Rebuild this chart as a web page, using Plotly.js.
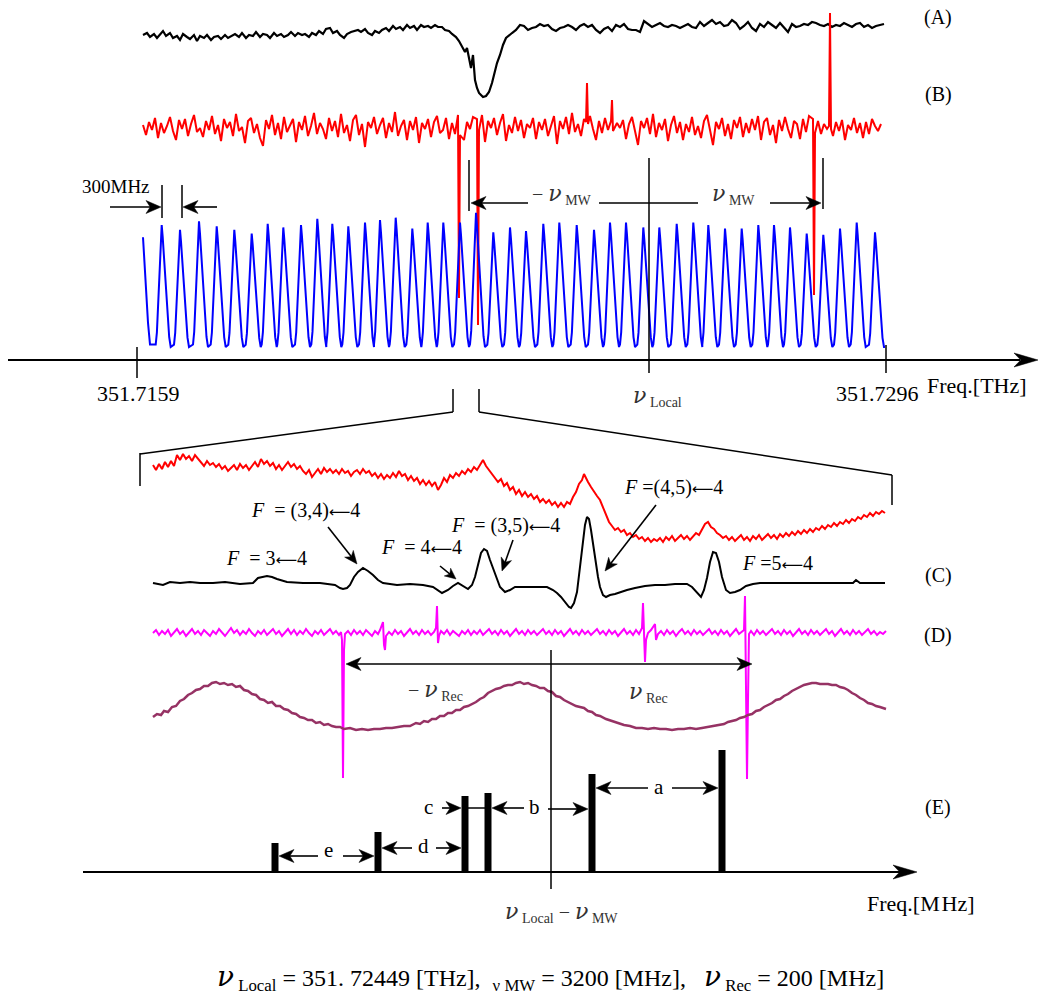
<!DOCTYPE html>
<html><head><meta charset="utf-8">
<script src="https://cdn.plot.ly/plotly-3.0.1.min.js"></script>
<style>html,body{margin:0;padding:0;background:#fff}#chart{width:1040px;height:995px}</style>
</head><body><div id="chart"></div>
<script>
// ======================= DATA =======================
// Upper panel calibration: scan sample -> frequency
const tickFreqTHz = [351.7159, 351.7296];
const tickScan = [-6, 743];
const localFreqTHz = 351.72449;
const mwMHz = 3200;
const recMHz = 200;

// (A) absorption signal [scan sample, signal]
const traceA = [[0,0],[4,2],[7,-2],[11,1],[14,-3],[17,0],[20,4],[23,-1],[27,2],[30,-3],[34,-1],[37,-5],[40,1],[44,-2],[47,-4],[51,0],[54,-6],[57,-1],[61,-3],[64,0],[68,-5],[71,-2],[75,-1],[78,-4],[82,0],[85,-3],[89,-1],[92,1],[96,-2],[99,2],[103,-3],[106,0],[110,-1],[113,3],[117,-2],[120,1],[124,0],[127,-3],[131,2],[134,-1],[138,1],[141,-2],[145,0],[148,3],[152,-1],[155,2],[159,0],[162,1],[166,-2],[169,2],[173,0],[176,4],[180,1],[183,6],[187,7],[190,2],[194,4],[197,0],[201,-3],[204,1],[208,3],[211,4],[215,5],[218,3],[222,6],[225,2],[229,0],[232,4],[236,2],[239,5],[243,7],[246,4],[250,9],[253,6],[257,8],[260,5],[264,10],[267,7],[271,9],[274,5],[278,10],[281,8],[285,9],[288,7],[292,10],[295,8],[299,8],[302,5],[306,4],[309,1],[313,-2],[316,-6],[319,-11],[322,-17],[324,-13],[326,-25],[328,-33],[330,-20],[332,-45],[334,-53],[336,-58],[338,-60],[340,-62],[343,-61],[346,-57],[349,-48],[352,-37],[354,-28],[357,-20],[360,-10],[363,-3],[366,0],[369,2],[373,5],[377,10],[381,9],[385,5],[389,7],[393,8],[397,11],[401,9],[405,10],[409,6],[413,4],[417,7],[421,8],[425,10],[429,8],[433,5],[437,9],[441,11],[445,8],[449,10],[453,5],[457,2],[461,6],[465,8],[469,4],[473,10],[477,8],[481,11],[485,6],[489,5],[493,5],[497,3],[501,14],[505,11],[509,8],[513,10],[517,12],[521,9],[525,8],[529,10],[533,9],[537,7],[541,9],[545,11],[549,8],[553,7],[557,13],[561,9],[565,12],[569,15],[573,11],[577,13],[581,9],[585,10],[589,15],[593,12],[597,6],[601,9],[605,13],[609,7],[613,4],[617,11],[621,8],[625,13],[629,10],[633,7],[637,12],[641,8],[645,3],[649,11],[653,8],[657,9],[661,11],[665,10],[669,13],[673,12],[677,10],[681,9],[685,11],[689,8],[693,10],[697,9],[701,12],[705,10],[709,8],[713,11],[717,12],[721,8],[725,10],[729,7],[733,9],[737,10],[741,11]];

// (B) signal sampled every 3 scan samples from scan 0, plus sharp spikes
const bStartScan = 0, bStepScan = 3;
const bSignal = [
 2,-8,5,-3,9,-11,4,-6,1,10,-4,-13,7,-2,8,-9,3,12,-5,-1,
 -10,6,-3,11,-7,2,-14,8,-1,5,-9,13,-4,0,-16,6,9,-6,3,-11,
 -19,7,-2,12,-8,4,-12,10,-5,2,8,-15,5,-3,11,-9,1,14,-7,4,
 -2,-12,9,-4,6,-10,13,-6,2,-14,7,12,-8,3,-20,5,-1,10,-7,2,
 9,-11,4,-5,15,-9,1,7,-13,6,-3,10,-16,4,-2,8,-10,5,11,-6,
 -3,9,-12,4,-7,1,8,-13,5,-2,10,-6,3,12,-15,6,-1,9,-8,4,
 13,-14,2,-6,10,-4,7,-11,3,-1,9,-12,5,-3,8,-9,1,11,-17,6,
 -2,10,-7,14,-5,3,-9,8,-4,11,-2,-13,6,-6,9,-3,12,-10,4,-1,
 7,-12,3,10,-5,-18,6,-1,9,-7,13,-10,4,-3,8,-14,2,11,-6,5,
 -13,3,-5,10,-8,1,-11,6,12,-4,-18,5,-2,9,-9,3,-12,7,-1,10,
 -10,4,-6,8,-3,11,-13,5,9,-8,2,-16,7,-4,10,-2,-11,6,3,-12,
 8,-5,11,-9,2,6,-7,3,-2,1,-9,5,-4,7,-13,2,-3,9,-6,4,
 -11,5,-7,8,1,-4,3];
const bSpikes = [[315,12],[316,-171],[317,-8],[334,8],[335,-198],[336,-3],[443,5],[444,44],[445,3],[468,6],[469,27],[470,-4],[670,8],[671,-168],[672,-6],[686,1],[687,114],[688,-2]];

// Fabry-Perot transmission fringes: peak scan positions and peak heights
const fpPeakScan = [18.7,37,56,73.7,91.3,108.7,124.7,140.3,158,174.3,189.3,205.3,222,237,252.7,269.3,284.7,300.3,317,333,350.3,367,383,400.3,416.3,433.7,451,467,483,500.3,516.3,533.7,550.3,565.3,582,598.7,615.3,631,647,663.7,680.3,697,713.7,732];
const fpPeakHeight = [1.00,0.96,1.03,0.99,0.96,0.93,1.01,0.98,1.00,1.05,1.01,0.99,1.02,1.04,1.06,0.97,1.02,1.02,1.02,1.10,0.94,0.98,0.95,1.01,1.02,1.00,0.96,1.02,1.02,0.98,0.98,1.01,1.02,1.00,0.97,0.97,1.00,1.00,0.98,0.93,0.92,0.97,1.02,0.94];
const fpLeadScan = [0,1,3,5,7];
const fpLeadValue = [0.90,0.75,0.45,0.20,0.02];
const fpProfileDx = [-6,-4.8,-3.2,-1.6,-0.5,0,1,2.5,5,7.5,9];
const fpProfileFrac = [0.02,0.12,0.45,0.8,0.97,1,0.9,0.7,0.35,0.08,0.0];
const fpTailScan = [742];
const fpTailValue = [0];

// Lower panel: [MHz from nuLocal - nuMW, signal]
const traceSat = [[-398,75],[-395,70],[-392,76],[-389,71],[-386,78],[-383,73],[-380,79],[-377,74],[-374,85],[-371,80],[-368,86],[-365,81],[-362,84],[-359,79],[-356,85],[-353,81],[-350,78],[-347,74],[-344,79],[-341,75],[-338,77],[-335,73],[-332,76],[-329,71],[-326,74],[-323,69],[-320,72],[-317,75],[-314,70],[-311,76],[-308,72],[-305,75],[-302,70],[-299,74],[-296,78],[-293,73],[-290,81],[-287,76],[-284,79],[-281,74],[-278,77],[-275,71],[-272,75],[-269,70],[-266,74],[-263,78],[-260,73],[-257,76],[-254,71],[-251,74],[-248,69],[-245,66],[-242,70],[-239,63],[-236,67],[-233,71],[-230,66],[-227,72],[-224,68],[-221,71],[-218,67],[-215,70],[-212,66],[-209,71],[-206,67],[-203,69],[-200,64],[-197,68],[-194,70],[-191,66],[-188,71],[-185,67],[-182,69],[-179,64],[-176,67],[-173,62],[-170,66],[-167,61],[-164,65],[-161,62],[-158,67],[-155,63],[-152,69],[-149,64],[-146,66],[-143,60],[-140,64],[-137,59],[-134,62],[-131,56],[-128,60],[-125,55],[-122,59],[-119,54],[-116,58],[-113,50],[-110,55],[-107,62],[-104,58],[-101,65],[-98,62],[-95,67],[-92,64],[-89,69],[-86,66],[-83,71],[-80,68],[-77,73],[-74,70],[-71,75],[-68,80],[-65,74],[-62,70],[-59,65],[-56,62],[-53,58],[-50,61],[-47,54],[-44,57],[-41,50],[-38,53],[-35,46],[-32,50],[-29,44],[-26,48],[-23,43],[-20,46],[-17,41],[-14,44],[-11,38],[-8,41],[-5,37],[-2,40],[1,35],[4,38],[7,33],[10,37],[13,33],[16,38],[19,36],[22,43],[25,48],[28,56],[31,60],[33,66],[35,61],[37,58],[40,53],[43,48],[46,44],[49,40],[52,33],[55,25],[58,18],[61,14],[64,10],[67,12],[70,8],[73,10],[76,5],[79,7],[82,3],[85,5],[88,1],[91,3],[94,-1],[97,2],[100,-2],[103,1],[106,-1],[109,2],[112,-2],[115,3],[118,0],[121,4],[124,-1],[127,2],[130,5],[133,1],[136,4],[139,0],[142,4],[145,7],[148,5],[151,10],[154,16],[157,18],[160,13],[163,11],[166,7],[169,5],[172,2],[175,4],[178,0],[181,3],[184,-1],[187,2],[190,5],[193,0],[196,3],[199,-1],[202,4],[205,1],[208,5],[211,0],[214,3],[217,6],[220,2],[223,5],[226,1],[229,6],[232,3],[235,7],[238,4],[241,8],[244,5],[247,9],[250,6],[253,10],[256,7],[259,11],[262,8],[265,12],[268,10],[271,14],[274,11],[277,15],[280,13],[283,17],[286,14],[289,18],[292,16],[295,20],[298,17],[301,21],[304,19],[307,23],[310,21],[313,25],[316,23],[319,27],[322,24],[325,28],[328,26],[331,29],[334,27]];

const traceC = [[-398,0],[-388,-2],[-381,1],[-371,0],[-361,1],[-351,0],[-338,0],[-326,1],[-311,-1],[-298,0],[-293,5],[-288,6],[-284,7],[-279,6],[-274,4],[-264,1],[-248,0],[-231,0],[-216,-2],[-211,-5],[-208,-6],[-204,-5],[-201,-2],[-197,6],[-193,11],[-188,15],[-183,12],[-178,8],[-173,3],[-168,0],[-154,-2],[-141,-1],[-128,-2],[-118,-4],[-114,-7],[-109,-10],[-103,-7],[-98,-3],[-93,0],[-88,-3],[-83,-6],[-79,-2],[-76,6],[-73,18],[-70,30],[-67,34],[-64,32],[-61,23],[-58,15],[-55,6],[-51,-4],[-46,-9],[-41,-7],[-36,-4],[-21,-4],[-4,-4],[2,-7],[6,-10],[10,-14],[14,-19],[18,-24],[20,-25],[23,-20],[26,-9],[29,18],[31,33],[34,58],[36,66],[38,64],[40,53],[42,38],[44,23],[47,6],[49,-4],[52,-12],[55,-14],[59,-12],[64,-11],[69,-9],[76,-7],[84,-5],[94,-3],[104,-2],[114,-2],[124,-1],[136,-1],[141,-4],[146,-9],[150,-14],[153,-7],[156,5],[159,21],[162,31],[165,30],[168,21],[171,6],[175,-7],[179,-10],[184,-9],[189,-7],[195,-3],[202,-1],[209,0],[232,0],[269,0],[302,0],[305,3],[309,0],[334,0]];

const traceD = [[-398,0],[-395,3],[-392,-2],[-389,2],[-386,-1],[-383,3],[-380,-3],[-377,1],[-374,4],[-371,-1],[-368,2],[-365,-3],[-362,1],[-359,4],[-356,-1],[-353,2],[-350,-2],[-347,3],[-344,0],[-341,-3],[-338,2],[-335,-1],[-332,4],[-329,0],[-326,-3],[-323,1],[-320,5],[-317,0],[-314,3],[-311,-2],[-308,2],[-305,-1],[-302,4],[-299,0],[-296,-3],[-293,2],[-290,-1],[-287,3],[-284,-2],[-281,1],[-278,4],[-275,-1],[-272,2],[-269,-3],[-266,1],[-263,4],[-260,-1],[-257,3],[-254,-2],[-251,2],[-248,-1],[-245,4],[-242,0],[-239,-3],[-236,2],[-233,-1],[-230,3],[-227,-2],[-224,1],[-221,4],[-218,-1],[-215,2],[-212,-2],[-210,1],[-209,-7],[-208,-145],[-207,-17],[-206,-1],[-203,2],[-200,-2],[-197,3],[-194,-1],[-191,2],[-188,-2],[-185,3],[-182,0],[-179,-3],[-176,2],[-173,-1],[-171,3],[-169,8],[-168,11],[-167,-12],[-166,-17],[-165,-3],[-162,1],[-159,-2],[-156,3],[-153,-1],[-150,2],[-147,-3],[-144,1],[-141,4],[-138,-1],[-135,2],[-132,-2],[-129,3],[-126,-1],[-123,2],[-120,-2],[-117,1],[-115,5],[-114,27],[-113,-10],[-112,-3],[-110,2],[-107,-1],[-104,3],[-101,-2],[-98,2],[-95,-1],[-92,-3],[-89,2],[-86,-1],[-83,3],[-80,-2],[-77,2],[-74,-1],[-71,3],[-68,-2],[-65,1],[-62,4],[-59,-1],[-56,2],[-53,-2],[-50,3],[-47,-1],[-44,2],[-41,-3],[-38,1],[-35,4],[-32,-1],[-29,2],[-26,-2],[-23,3],[-20,-1],[-17,2],[-14,-2],[-11,1],[-8,4],[-5,-1],[-2,2],[1,-2],[4,3],[7,-1],[10,2],[13,-3],[16,1],[19,4],[22,-1],[25,2],[28,-2],[31,3],[34,-1],[37,2],[40,-2],[43,1],[46,4],[49,-1],[52,2],[55,-2],[58,3],[61,-1],[64,2],[67,-3],[70,1],[73,4],[76,-1],[79,2],[82,-2],[85,3],[88,-1],[91,5],[92,30],[93,1],[94,-29],[95,-7],[97,0],[100,3],[103,7],[104,9],[105,-7],[107,-1],[110,2],[113,-2],[116,3],[119,-1],[122,2],[125,-3],[128,1],[131,4],[134,-1],[137,2],[140,-2],[143,3],[146,-1],[149,2],[152,-2],[155,1],[158,4],[161,-1],[164,2],[167,-2],[170,3],[173,-1],[176,2],[179,-3],[182,1],[185,4],[188,-1],[191,2],[193,3],[194,37],[195,-47],[196,-146],[197,-67],[198,-1],[200,2],[203,-2],[206,3],[209,-1],[212,2],[215,-2],[218,1],[221,4],[224,-1],[227,2],[230,-2],[233,3],[236,-1],[239,2],[242,-3],[245,1],[248,4],[251,-1],[254,2],[257,-2],[260,3],[263,-1],[266,2],[269,-2],[272,1],[275,4],[278,-1],[281,2],[284,-3],[287,1],[290,4],[293,-1],[296,2],[299,-2],[302,3],[305,-1],[308,2],[311,-2],[314,1],[317,4],[320,-1],[323,2],[326,-2],[329,1],[332,-1],[335,2]];

const traceRec = [[-398,-11],[-394,-8],[-390,-9],[-387,-5],[-383,-6],[-379,-1],[-375,0],[-371,5],[-367,7],[-363,11],[-359,13],[-355,16],[-351,17],[-347,20],[-343,20],[-339,23],[-335,24],[-331,22],[-327,23],[-323,21],[-319,22],[-315,19],[-311,20],[-307,16],[-303,15],[-299,12],[-295,11],[-291,7],[-287,6],[-283,3],[-279,4],[-275,0],[-271,0],[-267,-3],[-263,-4],[-259,-7],[-255,-8],[-251,-11],[-247,-12],[-243,-14],[-239,-14],[-235,-17],[-231,-16],[-227,-19],[-223,-18],[-219,-20],[-215,-21],[-211,-21],[-207,-23],[-201,-22],[-195,-24],[-189,-23],[-183,-24],[-177,-23],[-171,-23],[-165,-22],[-159,-22],[-153,-21],[-147,-20],[-141,-20],[-135,-17],[-131,-18],[-127,-15],[-123,-16],[-119,-13],[-115,-13],[-111,-10],[-107,-10],[-103,-7],[-99,-7],[-95,-4],[-91,-4],[-87,-1],[-83,0],[-79,2],[-75,4],[-71,7],[-67,9],[-63,13],[-59,15],[-55,17],[-51,18],[-47,20],[-43,21],[-39,21],[-35,23],[-31,24],[-27,22],[-23,23],[-19,21],[-15,20],[-11,18],[-7,18],[-3,15],[1,14],[5,10],[9,9],[13,6],[17,4],[21,2],[25,0],[29,-1],[33,-2],[37,-5],[41,-6],[45,-9],[49,-10],[55,-13],[61,-15],[67,-17],[73,-19],[79,-20],[85,-22],[91,-22],[97,-23],[103,-22],[109,-23],[115,-23],[121,-24],[127,-23],[133,-23],[139,-22],[145,-23],[151,-22],[157,-21],[163,-20],[169,-19],[173,-18],[177,-16],[181,-15],[185,-14],[189,-12],[193,-11],[197,-9],[201,-8],[205,-5],[209,-4],[213,-1],[217,1],[221,3],[225,6],[229,7],[233,10],[237,12],[241,15],[245,17],[249,19],[253,21],[257,22],[261,23],[265,23],[269,22],[273,22],[277,22],[281,21],[285,21],[289,19],[293,18],[297,16],[301,13],[305,11],[309,8],[313,6],[317,3],[321,2],[325,0],[329,-1],[333,-2],[335,-3]];

// (E) stick spectrum
const stickMHz = [-276, -173, -86, -63, 41, 171];
const stickIntensity = [29, 40, 76, 79, 98, 122];
const gapLabels = ['e', 'd', 'c', 'b', 'a'];

const fLabelText = ['F\u00A0 = 3←4', 'F\u00A0 = (3,4)←4', 'F\u00A0 = 4←4', 'F\u00A0 = (3,5)←4', 'F =(4,5)←4', 'F =5←4'];
const panelLabels = ['(A)', '(B)', '(C)', '(D)', '(E)'];

// ======================= BUILD =======================
const W = 1040, H = 995;
const mhzPerScan = (tickFreqTHz[1] - tickFreqTHz[0]) * 1e6 / (tickScan[1] - tickScan[0]);
const scanToMHz = k => (k - tickScan[0]) * mhzPerScan;

// FP fringe polyline assembled from the peak table
const fpX = [], fpY = [];
fpLeadScan.forEach((k, i) => { fpX.push(scanToMHz(k)); fpY.push(fpLeadValue[i]); });
fpPeakScan.forEach((p, i) => {
  fpProfileDx.forEach((d, j) => { fpX.push(scanToMHz(p + d)); fpY.push(fpPeakHeight[i] * fpProfileFrac[j]); });
});
fpTailScan.forEach((k, i) => { fpX.push(scanToMHz(k)); fpY.push(fpTailValue[i]); });

// (B): sampled noise merged with the spikes
let bPts = bSignal.map((v, i) => [bStartScan + i * bStepScan, v])
  .filter(p => !bSpikes.some(s => Math.abs(s[0] - p[0]) < 1.5));
bPts = bPts.concat(bSpikes).sort((a, b) => a[0] - b[0]);

function xr(p0, s) { return [-p0 / s, (W - p0) / s]; }
function yr(p0, s) { return [(p0 - H) / s, p0 / s]; }
const upperPxPerMHz = 749 / ((tickFreqTHz[1] - tickFreqTHz[0]) * 1e6);

const traces = [
  { x: fpX, y: fpY, xaxis: 'x', yaxis: 'y3', mode: 'lines', line: { color: '#0000ff', width: 2 } },
  { x: traceA.map(p => scanToMHz(p[0])), y: traceA.map(p => p[1]), xaxis: 'x', yaxis: 'y', mode: 'lines', line: { color: '#000', width: 2.2 } },
  { x: bPts.map(p => scanToMHz(p[0])), y: bPts.map(p => p[1]), xaxis: 'x', yaxis: 'y2', mode: 'lines', line: { color: '#ff0000', width: 2 } },
  { x: traceSat.map(p => p[0]), y: traceSat.map(p => p[1]), xaxis: 'x2', yaxis: 'y4', mode: 'lines', line: { color: '#ff0000', width: 2 } },
  { x: traceC.map(p => p[0]), y: traceC.map(p => p[1]), xaxis: 'x2', yaxis: 'y5', mode: 'lines', line: { color: '#000', width: 2 } },
  { x: traceRec.map(p => p[0]), y: traceRec.map(p => p[1]), xaxis: 'x2', yaxis: 'y7', mode: 'lines', line: { color: '#963264', width: 2.5 } },
  { x: traceD.map(p => p[0]), y: traceD.map(p => p[1]), xaxis: 'x2', yaxis: 'y6', mode: 'lines', line: { color: '#ff00ff', width: 2 } },
  { type: 'bar', x: stickMHz, y: stickIntensity, width: 7, xaxis: 'x2', yaxis: 'y8', marker: { color: '#000', line: { width: 0 } } }
];

// ----- decorations -----
const shapes = [], ann = [];
const PX = x => x / W, PY = y => 1 - y / H;
function seg(x0, y0, x1, y1, w = 1.5, c = '#000') {
  shapes.push({ type: 'line', xref: 'paper', yref: 'paper', x0: PX(x0), y0: PY(y0), x1: PX(x1), y1: PY(y1), line: { color: c, width: w } });
}
function head(x0, y0, x1, y1, len = 15, hw = 6.5, c = '#000') {
  const dx = x1 - x0, dy = y1 - y0, L = Math.hypot(dx, dy), ux = dx / L, uy = dy / L, nx = -uy, ny = ux;
  const bx = x1 - ux * len, by = y1 - uy * len, mx = x1 - ux * len * 0.72, my = y1 - uy * len * 0.72;
  const path = `M${PX(x1)},${PY(y1)} L${PX(bx + nx * hw)},${PY(by + ny * hw)} L${PX(mx)},${PY(my)} L${PX(bx - nx * hw)},${PY(by - ny * hw)} Z`;
  shapes.push({ type: 'path', xref: 'paper', yref: 'paper', path, fillcolor: c, line: { color: c, width: 0.5 } });
}
function arrow(x0, y0, x1, y1, w = 1.6, len = 15, hw = 6.5) {
  const dx = x1 - x0, dy = y1 - y0, L = Math.hypot(dx, dy);
  seg(x0, y0, x1 - dx / L * len * 0.6, y1 - dy / L * len * 0.6, w);
  head(x0, y0, x1, y1, len, hw);
}
const FONT = 'Liberation Serif, Times New Roman, DejaVu Serif, serif';
function label(text, x, y, size = 19, color = '#000', xanchor = 'center') {
  ann.push({ text, x: PX(x), y: PY(y), xref: 'paper', yref: 'paper', showarrow: false, xanchor, yanchor: 'middle', font: { family: FONT, size, color } });
}
const NU = (size) => `<span style="font-family:'DejaVu Serif';font-style:italic;font-size:${size}px">ν</span>`;
const nu = (sub, size = 22) => `${NU(size)}<sub>\u00A0${sub}</sub>`;
const fmtF = t => t.replace(/^F/, '<i>F</i>').replace('←', '<span style="font-family:\'DejaVu Sans\';font-size:15px">\u27F5</span>');

// upper axis
seg(8, 360, 1020, 360, 2); head(8, 360, 1038, 360, 24, 7);
seg(137, 347, 137, 378, 1.5);
seg(649, 158, 649, 373, 1.5);
seg(886, 345, 886, 373, 1.5);
// zoom bracket
seg(453, 389, 453, 412); seg(479, 389, 479, 412);
seg(453, 412, 140, 454); seg(479, 412, 892, 475);
seg(140, 453, 140, 486); seg(892, 475, 892, 505);
// 300 MHz markers
seg(162, 185, 162, 218); seg(182, 185, 182, 218);
arrow(110, 207, 161, 207); arrow(217, 207, 183, 207);
// nu MW arrows
seg(469, 160, 469, 211); seg(823, 158, 823, 209);
arrow(528, 203, 471, 203); seg(599, 203, 698, 203); arrow(770, 203, 821, 203);
// lower
seg(551, 650, 551, 889);
arrow(551, 664, 346, 664); arrow(551, 664, 752, 664);
// (E) axis
seg(83, 872, 905, 872, 2); head(83, 872, 917, 872, 24, 7);
// gap arrows
arrow(318, 856, 279, 856); arrow(343, 856, 374, 856);
arrow(412, 848, 382, 848); arrow(436, 848, 461, 848);
arrow(442, 808, 461, 808); seg(468, 808, 485, 808); arrow(524, 808, 492, 808);
arrow(548, 809, 588, 809);
arrow(648, 788, 596, 788); arrow(672, 788, 718, 788);
// F label arrows
arrow(328, 527, 357, 564, 1.6, 13, 5.5);
arrow(440, 566, 456, 579, 1.6, 11, 5);
arrow(513, 540, 502, 571, 1.6, 13, 5.5);
arrow(656, 505, 605, 571, 1.6, 13, 5.5);

// texts
label(panelLabels[0], 938, 17, 20);
label(panelLabels[1], 938, 95, 20);
label('300MHz', 116, 187, 19);
label('−\u00A0' + nu('MW'), 562, 195, 20, '#333');
label(nu('MW'), 733, 195, 20, '#333');
label(tickFreqTHz[0].toFixed(4), 138, 393, 22);
label(tickFreqTHz[1].toFixed(4), 877, 393, 22);
label(nu('Local'), 657, 396, 20, '#333');
label('Freq.[THz]', 977, 385, 22);
label(fmtF(fLabelText[0]), 266, 558, 20);
label(fmtF(fLabelText[1]), 305, 510, 20);
label(fmtF(fLabelText[2]), 421, 547, 20);
label(fmtF(fLabelText[3]), 505, 525, 20);
label(fmtF(fLabelText[4]), 673, 487, 20);
label(fmtF(fLabelText[5]), 777, 563, 20);
label(panelLabels[2], 938, 575, 20);
label(panelLabels[3], 938, 635, 20);
label('−\u00A0' + nu('Rec'), 435, 690, 20, '#333');
label(nu('Rec'), 648, 692, 20, '#333');
label(gapLabels[0], 328, 850, 21);
label(gapLabels[1], 423, 846, 21);
label(gapLabels[2], 428, 807, 21);
label(gapLabels[3], 534, 807, 21);
label(gapLabels[4], 659, 787, 21);
label(panelLabels[4], 938, 807, 20);
label('Freq.[M\u200AHz]', 921, 903, 22);
label(nu('Local') + '\u00A0−\u00A0' + nu('MW'), 561, 912, 20, '#333');
const formula = `${NU(28)}<sub>\u00A0Local</sub> = ${localFreqTHz.toFixed(5).replace('.', '. ')} [THz],\u00A0\u00A0<sub>ν MW</sub> = ${mwMHz} [MHz],\u00A0\u00A0\u00A0${NU(28)}<sub>\u00A0Rec</sub> = ${recMHz} [MHz]`;
label(formula, 550, 977, 24);

const blank = r => ({ range: r, visible: false, fixedrange: true, showgrid: false, zeroline: false });
const layout = {
  width: W, height: H, margin: { l: 0, r: 0, t: 0, b: 0 },
  paper_bgcolor: '#fff', plot_bgcolor: 'rgba(0,0,0,0)', showlegend: false,
  xaxis: blank(xr(137, upperPxPerMHz)),
  xaxis2: Object.assign(blank(xr(551, 1)), { overlaying: 'x' }),
  yaxis: blank(yr(35, 1)),
  yaxis2: Object.assign(blank(yr(127, 1)), { overlaying: 'y' }),
  yaxis3: Object.assign(blank(yr(347, 122)), { overlaying: 'y' }),
  yaxis4: Object.assign(blank(yr(540, 1)), { overlaying: 'y' }),
  yaxis5: Object.assign(blank(yr(583, 1)), { overlaying: 'y' }),
  yaxis6: Object.assign(blank(yr(633, 1)), { overlaying: 'y' }),
  yaxis7: Object.assign(blank(yr(706, 1)), { overlaying: 'y' }),
  yaxis8: Object.assign(blank(yr(872, 1)), { overlaying: 'y' }),
  shapes, annotations: ann
};
Plotly.newPlot('chart', traces, layout, { staticPlot: true, displayModeBar: false });
</script>
</body></html>
